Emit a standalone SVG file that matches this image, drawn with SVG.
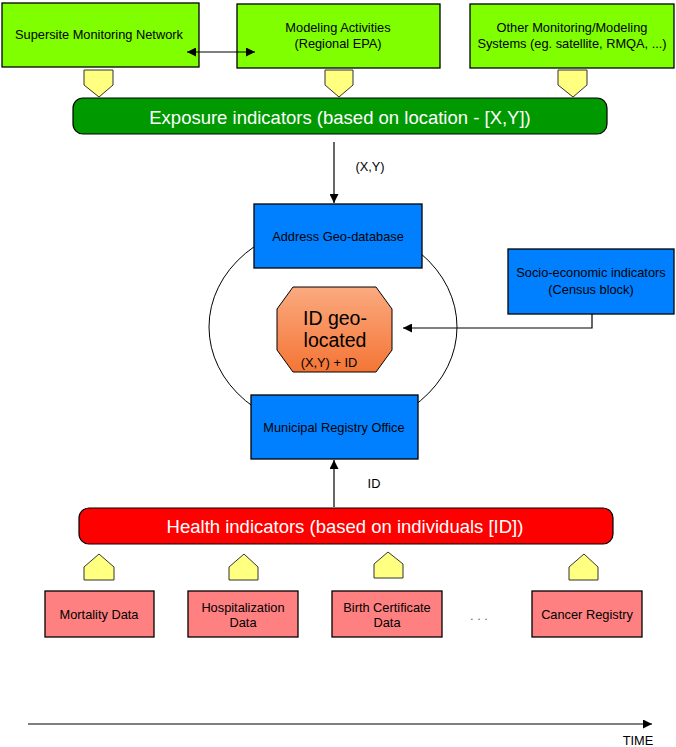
<svg xmlns="http://www.w3.org/2000/svg" width="676" height="747" viewBox="0 0 676 747">
<style>
text{font-family:"Liberation Sans",Arial,sans-serif;fill:#000;text-anchor:middle}
.s{font-size:12.8px}
.big{font-size:18.5px;fill:#fff}
.box{stroke:#000;stroke-width:1.3}
.g{fill:#80FF00}
.b{fill:#0080FF}
.p{fill:#FF8080}
.y{fill:#FFFF80;stroke:#333;stroke-width:1}
.ln{stroke:#000;stroke-width:1.2;fill:none}
</style>
<defs>
<marker id="ah" viewBox="0 0 10 10" refX="10" refY="5" markerWidth="9" markerHeight="9" markerUnits="userSpaceOnUse" orient="auto-start-reverse">
<path d="M0,0 L10,5 L0,10 z" fill="#000"/>
</marker>
<linearGradient id="og" x1="0" y1="0" x2="0" y2="1">
<stop offset="0" stop-color="#FBAA80"/>
<stop offset="1" stop-color="#F47535"/>
</linearGradient>
</defs>

<g id="loop">
<ellipse cx="333" cy="327" rx="124" ry="104" fill="none" stroke="#000" stroke-width="1"/>
</g>

<g id="supersite">
<rect class="box g" x="2" y="3" width="197" height="64"/>
<text class="s" x="99" y="39">Supersite Monitoring Network</text>
</g>
<g id="modeling">
<rect class="box g" x="237" y="4" width="203" height="64"/>
<text class="s" x="338" y="32">Modeling Activities</text>
<text class="s" x="338" y="48">(Regional EPA)</text>
</g>
<g id="other">
<rect class="box g" x="470" y="4" width="204" height="64"/>
<text class="s" x="572" y="32">Other Monitoring/Modeling</text>
<text class="s" x="572" y="48">Systems (eg. satellite, RMQA, ...)</text>
</g>

<g id="down-arrows">
<polygon class="y" points="84,70 113,70 113,85 99,97 84,85"/>
<polygon class="y" points="325,70 353,70 353,85 339,97 325,85"/>
<polygon class="y" points="558,70 587,70 587,85 573,97 558,85"/>
</g>

<g id="exposure">
<rect x="73" y="98" width="534" height="36" rx="10" fill="#009900" stroke="#000" stroke-width="1.2"/>
<text class="big" x="340" y="124">Exposure indicators (based on location - [X,Y])</text>
</g>

<g id="address">
<rect class="box b" x="254" y="204" width="168" height="64"/>
<text class="s" x="338" y="241">Address Geo-database</text>
</g>

<g id="socio">
<rect class="box b" x="508" y="249" width="166" height="65"/>
<text class="s" x="591" y="277">Socio-economic indicators</text>
<text class="s" x="591" y="294">(Census block)</text>
</g>

<g id="idgeo">
<polygon points="293,287 376,287 392,309 392,350 376,372 293,372 277,350 277,309" fill="url(#og)" stroke="#000" stroke-width="1"/>
<text x="335" y="325" style="font-size:19.5px">ID geo-</text>
<text x="335" y="347" style="font-size:19.5px">located</text>
<text class="s" x="329" y="367">(X,Y) + ID</text>
</g>

<g id="municipal">
<rect class="box b" x="251" y="395" width="167" height="64"/>
<text class="s" x="334" y="432">Municipal Registry Office</text>
</g>

<g id="health">
<rect x="79" y="508" width="534" height="36" rx="10" fill="#FF0000" stroke="#000" stroke-width="1.2"/>
<text class="big" x="345" y="533">Health indicators (based on individuals [ID])</text>
</g>

<g id="up-arrows">
<polygon class="y" points="84,580 84,567 99,554 114,567 114,580"/>
<polygon class="y" points="229,580 229,567 244,554 258,567 258,580"/>
<polygon class="y" points="374,578 374,564 388,552 403,564 403,578"/>
<polygon class="y" points="569,580 569,567 584,554 598,567 598,580"/>
</g>

<g id="mortality">
<rect class="box p" x="45" y="591" width="109" height="46"/>
<text class="s" x="99" y="619">Mortality Data</text>
</g>
<g id="hospitalization">
<rect class="box p" x="188" y="591" width="110" height="46"/>
<text class="s" x="243" y="612">Hospitalization</text>
<text class="s" x="243" y="627">Data</text>
</g>
<g id="birth">
<rect class="box p" x="332" y="591" width="110" height="46"/>
<text class="s" x="387" y="612">Birth Certificate</text>
<text class="s" x="387" y="627">Data</text>
</g>
<g id="cancer">
<rect class="box p" x="532" y="591" width="110" height="46"/>
<text class="s" x="587" y="619">Cancer Registry</text>
</g>
<text class="s" x="479" y="620" style="fill:#776655">. . .</text>

<g id="connectors">
<line class="ln" x1="187" y1="52" x2="255" y2="52" marker-start="url(#ah)" marker-end="url(#ah)"/>
<line class="ln" x1="334" y1="142" x2="334" y2="203" marker-end="url(#ah)"/>
<path class="ln" d="M592,314 V328 H403" marker-end="url(#ah)"/>
<line class="ln" x1="334" y1="507" x2="334" y2="460" marker-end="url(#ah)"/>
<line class="ln" x1="28" y1="724" x2="652" y2="724" stroke-width="1.5" marker-end="url(#ah)"/>
</g>

<g id="labels">
<text class="s" x="370" y="171">(X,Y)</text>
<text class="s" x="374" y="488">ID</text>
<text class="s" x="638" y="745">TIME</text>
</g>
</svg>
